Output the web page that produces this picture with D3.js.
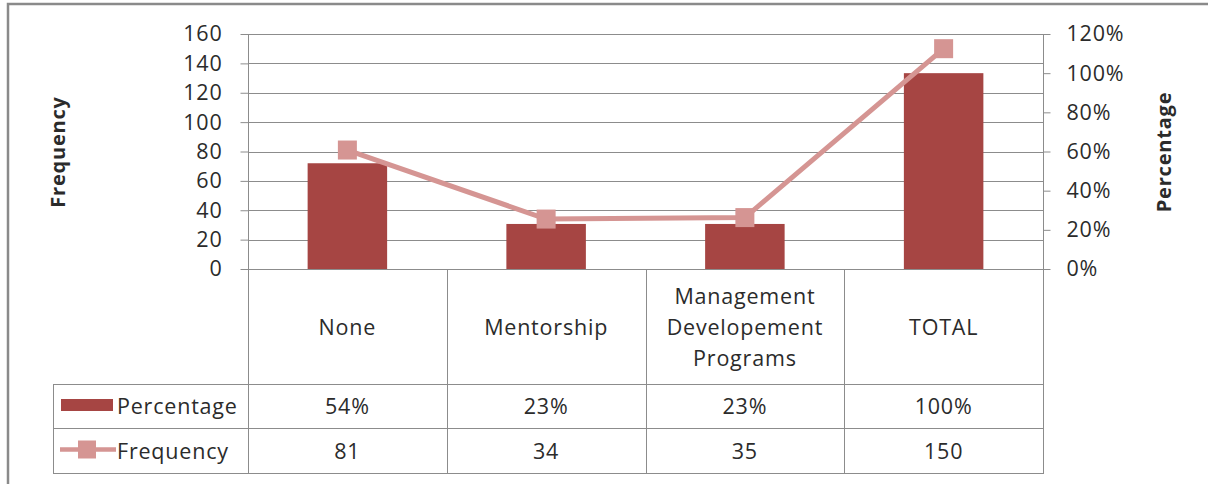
<!DOCTYPE html>
<html>
<head>
<meta charset="utf-8">
<script src="https://cdn.jsdelivr.net/npm/d3@7"></script>
<style>
  html, body { margin: 0; padding: 0; background: #fff; }
  svg text { font-family: "Open Sans", "Noto Sans", sans-serif; fill: #2b2b2b; }
</style>
</head>
<body>
<svg id="chart" width="1211" height="484"></svg>
<script>
// Training programme data: share of respondents and counts
const categoryLines = [["None"], ["Mentorship"], ["Management", "Developement", "Programs"], ["TOTAL"]];
const categories = categoryLines.map(l => l.join(" "));
const percentValues = [0.54, 0.23, 0.23, 1.00];
const frequencyValues = [81, 34, 35, 150];
const percentLabels = ["54%", "23%", "23%", "100%"];
const leftTicks = [0, 20, 40, 60, 80, 100, 120, 140, 160];
const rightTicks = [0, 0.2, 0.4, 0.6, 0.8, 1.0, 1.2];
const seriesNames = ["Percentage", "Frequency"];

const barColor = "#a64543";
const lineColor = "#d59593";
const gridColor = "#8c8c8c";
const fontSize = 21.5;
const spacing = "0.8px";

const svg = d3.select("#chart");

// plot geometry
const plotLeft = 248, plotRight = 1043, plotTop = 34, plotBottom = 269;
const tableLeft = 53, rowCatBottom = 384, rowPctBottom = 428, rowFreqBottom = 473;

const x = d3.scaleBand().domain(categories).range([plotLeft, plotRight]).padding(0);
const yL = d3.scaleLinear().domain([0, 160]).range([plotBottom, plotTop]);
const yR = d3.scaleLinear().domain([0, 1.2]).range([plotBottom, plotTop]);

// frame (top and left edges)
svg.append("path")
  .attr("d", "M8,484 L8,4 L1208,4")
  .attr("fill", "none").attr("stroke", "#8a8a8a").attr("stroke-width", 2.5);

// horizontal gridlines
svg.append("g").selectAll("line").data(leftTicks).join("line")
  .attr("x1", plotLeft).attr("x2", plotRight)
  .attr("y1", d => Math.round(yL(d)) + 0.5).attr("y2", d => Math.round(yL(d)) + 0.5)
  .attr("stroke", gridColor).attr("stroke-width", 1);

// left axis
const axL = svg.append("g").attr("transform", `translate(${plotLeft + 0.5},0)`)
  .call(d3.axisLeft(yL).tickValues(leftTicks).tickSize(8).tickPadding(18).tickSizeOuter(0));
axL.select(".domain").remove();
axL.selectAll(".tick line").attr("stroke", gridColor);
axL.selectAll(".tick text").attr("font-size", fontSize).attr("fill", "#2b2b2b")
  .style("letter-spacing", spacing).attr("font-family", "Open Sans");

// right axis
const axR = svg.append("g").attr("transform", `translate(${plotRight + 0.5},0)`)
  .call(d3.axisRight(yR).tickValues(rightTicks).tickSize(7).tickPadding(16).tickSizeOuter(0)
    .tickFormat(d3.format(".0%")));
axR.select(".domain").remove();
axR.selectAll(".tick line").attr("stroke", gridColor);
axR.selectAll(".tick text").attr("font-size", fontSize).attr("fill", "#2b2b2b")
  .style("letter-spacing", spacing).attr("font-family", "Open Sans");

// bars: percentage on the right scale
const barW = x.bandwidth() * 0.4;
svg.append("g").selectAll("rect").data(categories).join("rect")
  .attr("x", (d) => x(d) + (x.bandwidth() - barW) / 2)
  .attr("y", (d, i) => yR(percentValues[i]))
  .attr("width", barW)
  .attr("height", (d, i) => yR(0) - yR(percentValues[i]))
  .attr("fill", barColor);

// line: frequency on the left scale
const cx = d => x(d) + x.bandwidth() / 2;
svg.append("path")
  .datum(categories)
  .attr("d", d3.line().x(cx).y((d, i) => yL(frequencyValues[i])))
  .attr("fill", "none").attr("stroke", lineColor).attr("stroke-width", 5);
const ms = 19;
svg.append("g").selectAll("rect").data(categories).join("rect")
  .attr("x", d => cx(d) - ms / 2)
  .attr("y", (d, i) => yL(frequencyValues[i]) - ms / 2)
  .attr("width", ms).attr("height", ms)
  .attr("fill", lineColor);

// axis frame lines that continue into the data table
const tbl = svg.append("g").attr("stroke", gridColor).attr("stroke-width", 1);
[plotLeft, ...categories.slice(1).map(d => x(d)), plotRight].forEach((xv, i) => {
  const top = (i === 0 || i === categories.length) ? plotTop : plotBottom;
  tbl.append("line").attr("x1", Math.round(xv) + 0.5).attr("x2", Math.round(xv) + 0.5)
    .attr("y1", top).attr("y2", rowFreqBottom);
});
tbl.append("line").attr("x1", tableLeft + 0.5).attr("x2", tableLeft + 0.5)
  .attr("y1", rowCatBottom).attr("y2", rowFreqBottom);
[rowCatBottom, rowPctBottom, rowFreqBottom].forEach(yv => {
  tbl.append("line").attr("x1", tableLeft).attr("x2", plotRight + 1)
    .attr("y1", yv + 0.5).attr("y2", yv + 0.5);
});

// category labels
const lineH = 31;
const catG = svg.append("g");
categoryLines.forEach((lines, i) => {
  const t = catG.append("text")
    .attr("x", cx(categories[i]))
    .attr("text-anchor", "middle").attr("font-size", fontSize)
    .style("letter-spacing", spacing);
  const midY = (plotBottom + rowCatBottom) / 2 + 8;
  lines.forEach((ln, j) => {
    t.append("tspan").attr("x", cx(categories[i]))
      .attr("y", midY + (j - (lines.length - 1) / 2) * lineH)
      .text(ln);
  });
});

// table values
const rowMid1 = (rowCatBottom + rowPctBottom) / 2 + 8;
const rowMid2 = (rowPctBottom + rowFreqBottom) / 2 + 8;
svg.append("g").selectAll("text").data(categories).join("text")
  .attr("x", cx).attr("y", rowMid1).attr("text-anchor", "middle")
  .attr("font-size", fontSize).style("letter-spacing", spacing)
  .text((d, i) => percentLabels[i]);
svg.append("g").selectAll("text").data(categories).join("text")
  .attr("x", cx).attr("y", rowMid2).attr("text-anchor", "middle")
  .attr("font-size", fontSize).style("letter-spacing", spacing)
  .text((d, i) => frequencyValues[i]);

// legend keys in the table
svg.append("rect").attr("x", 61).attr("y", rowMid1 - 15).attr("width", 52).attr("height", 12)
  .attr("fill", barColor);
svg.append("line").attr("x1", 60).attr("x2", 116)
  .attr("y1", rowMid2 - 9).attr("y2", rowMid2 - 9)
  .attr("stroke", lineColor).attr("stroke-width", 4.5);
svg.append("rect").attr("x", 87 - 9).attr("y", rowMid2 - 18).attr("width", 18).attr("height", 18)
  .attr("fill", lineColor);
svg.append("text").attr("x", 117).attr("y", rowMid1).attr("font-size", fontSize)
  .style("letter-spacing", spacing).text(seriesNames[0]);
svg.append("text").attr("x", 117).attr("y", rowMid2).attr("font-size", fontSize)
  .style("letter-spacing", spacing).text(seriesNames[1]);

// axis titles
svg.append("text")
  .attr("transform", "translate(65,152) rotate(-90)")
  .attr("text-anchor", "middle").attr("font-size", 20).attr("font-weight", 700)
  .style("letter-spacing", "0.8px").attr("fill", "#111")
  .text("Frequency");
svg.append("text")
  .attr("transform", "translate(1171,152) rotate(-90)")
  .attr("text-anchor", "middle").attr("font-size", 20).attr("font-weight", 700)
  .style("letter-spacing", "0.8px").attr("fill", "#111")
  .text("Percentage");
</script>
</body>
</html>
